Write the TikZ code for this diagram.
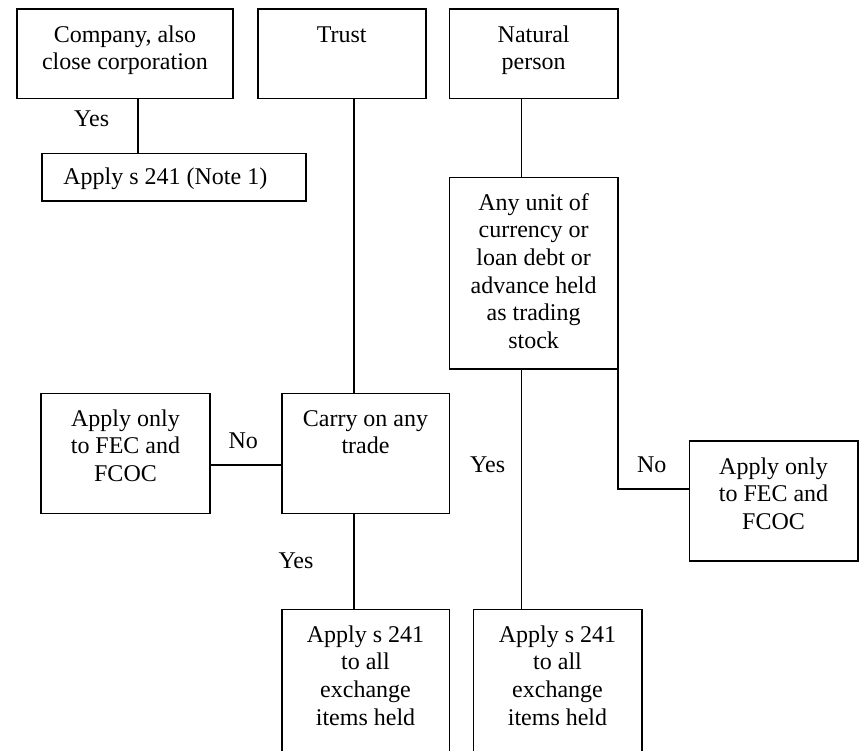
\documentclass[tikz,border=0pt]{standalone}
\usepackage{fontspec}
\setmainfont{Liberation Serif}
\newcommand{\bxt}[3]{\parbox[t][#2pt][t]{#1pt}{\centering\rule{0pt}{33pt}#3}}
\begin{document}
\begin{tikzpicture}[x=1pt,y=-1pt,
  font=\fontsize{24}{27.6}\selectfont,
  box/.style={draw, line width=1.6pt, inner sep=0pt, outer sep=0pt, anchor=north west},
  conn/.style={line width=1.6pt},
  lbl/.style={anchor=base, inner sep=0pt}]
\useasboundingbox (0,0) rectangle (859,750);
\clip (0,0) rectangle (859,750);
% boxes
\node[box] (comp) at (17,9) {\bxt{216}{89.3}{Company, also\\close corporation}};
\node[box] (trust) at (257.7,9) {\bxt{168}{89.3}{Trust}};
\node[box] (natural) at (449.3,9) {\bxt{168.7}{89.3}{Natural\\person}};
\node[box] (note) at (41.7,153.3) {\parbox[t][47.7pt][t]{264pt}{\raggedright\rule{0pt}{31pt}\hspace*{21.6pt}Apply s 241 (Note 1)}};
\node[box] (any) at (449.3,177.3) {\bxt{168.7}{191.7}{Any unit of\\currency or\\loan debt or\\advance held\\as trading\\stock}};
\node[box] (fec1) at (41,393.3) {\bxt{169}{120}{Apply only\\to FEC and\\FCOC}};
\node[box] (carry) at (281.7,393.3) {\bxt{167.6}{120}{Carry on any\\trade}};
\node[box] (fec2) at (689.3,441) {\bxt{168.5}{120}{Apply only\\to FEC and\\FCOC}};
\node[box] (s241a) at (281.7,609.3) {\bxt{167.6}{160}{Apply s 241\\to all\\exchange\\items held}};
\node[box] (s241b) at (473.3,609.3) {\bxt{168.4}{160}{Apply s 241\\to all\\exchange\\items held}};
% connectors
\draw[conn] ([xshift=12.7pt]comp.south) -- ([xshift=12.7pt]comp.south |- note.north);
\draw[conn] ([xshift=12.3pt]trust.south) -- ([xshift=12.3pt]trust.south |- carry.north);
\draw[conn] ([xshift=-12pt]natural.south) -- ([xshift=-12pt]natural.south |- any.north);
\draw[conn] ([xshift=-12pt]any.south) -- ([xshift=-12pt]any.south |- s241b.north);
\draw[conn] (any.south east) |- ([yshift=12.3pt]fec2.west);
\draw[conn] ([yshift=-11.7pt]fec1.east) -- ([yshift=-11.7pt]fec1.east -| carry.west);
\draw[conn] ([xshift=-11.5pt]carry.south) -- ([xshift=-11.5pt]carry.south |- s241a.north);
% labels
\node[lbl] (yes1) at (91.7,126.7) {Yes};
\node[lbl] (no1) at (243.3,448.3) {No};
\node[lbl] (yes2) at (296,568.3) {Yes};
\node[lbl] (yes3) at (487.7,472.7) {Yes};
\node[lbl] (no2) at (651.7,472.7) {No};
\end{tikzpicture}
\end{document}
